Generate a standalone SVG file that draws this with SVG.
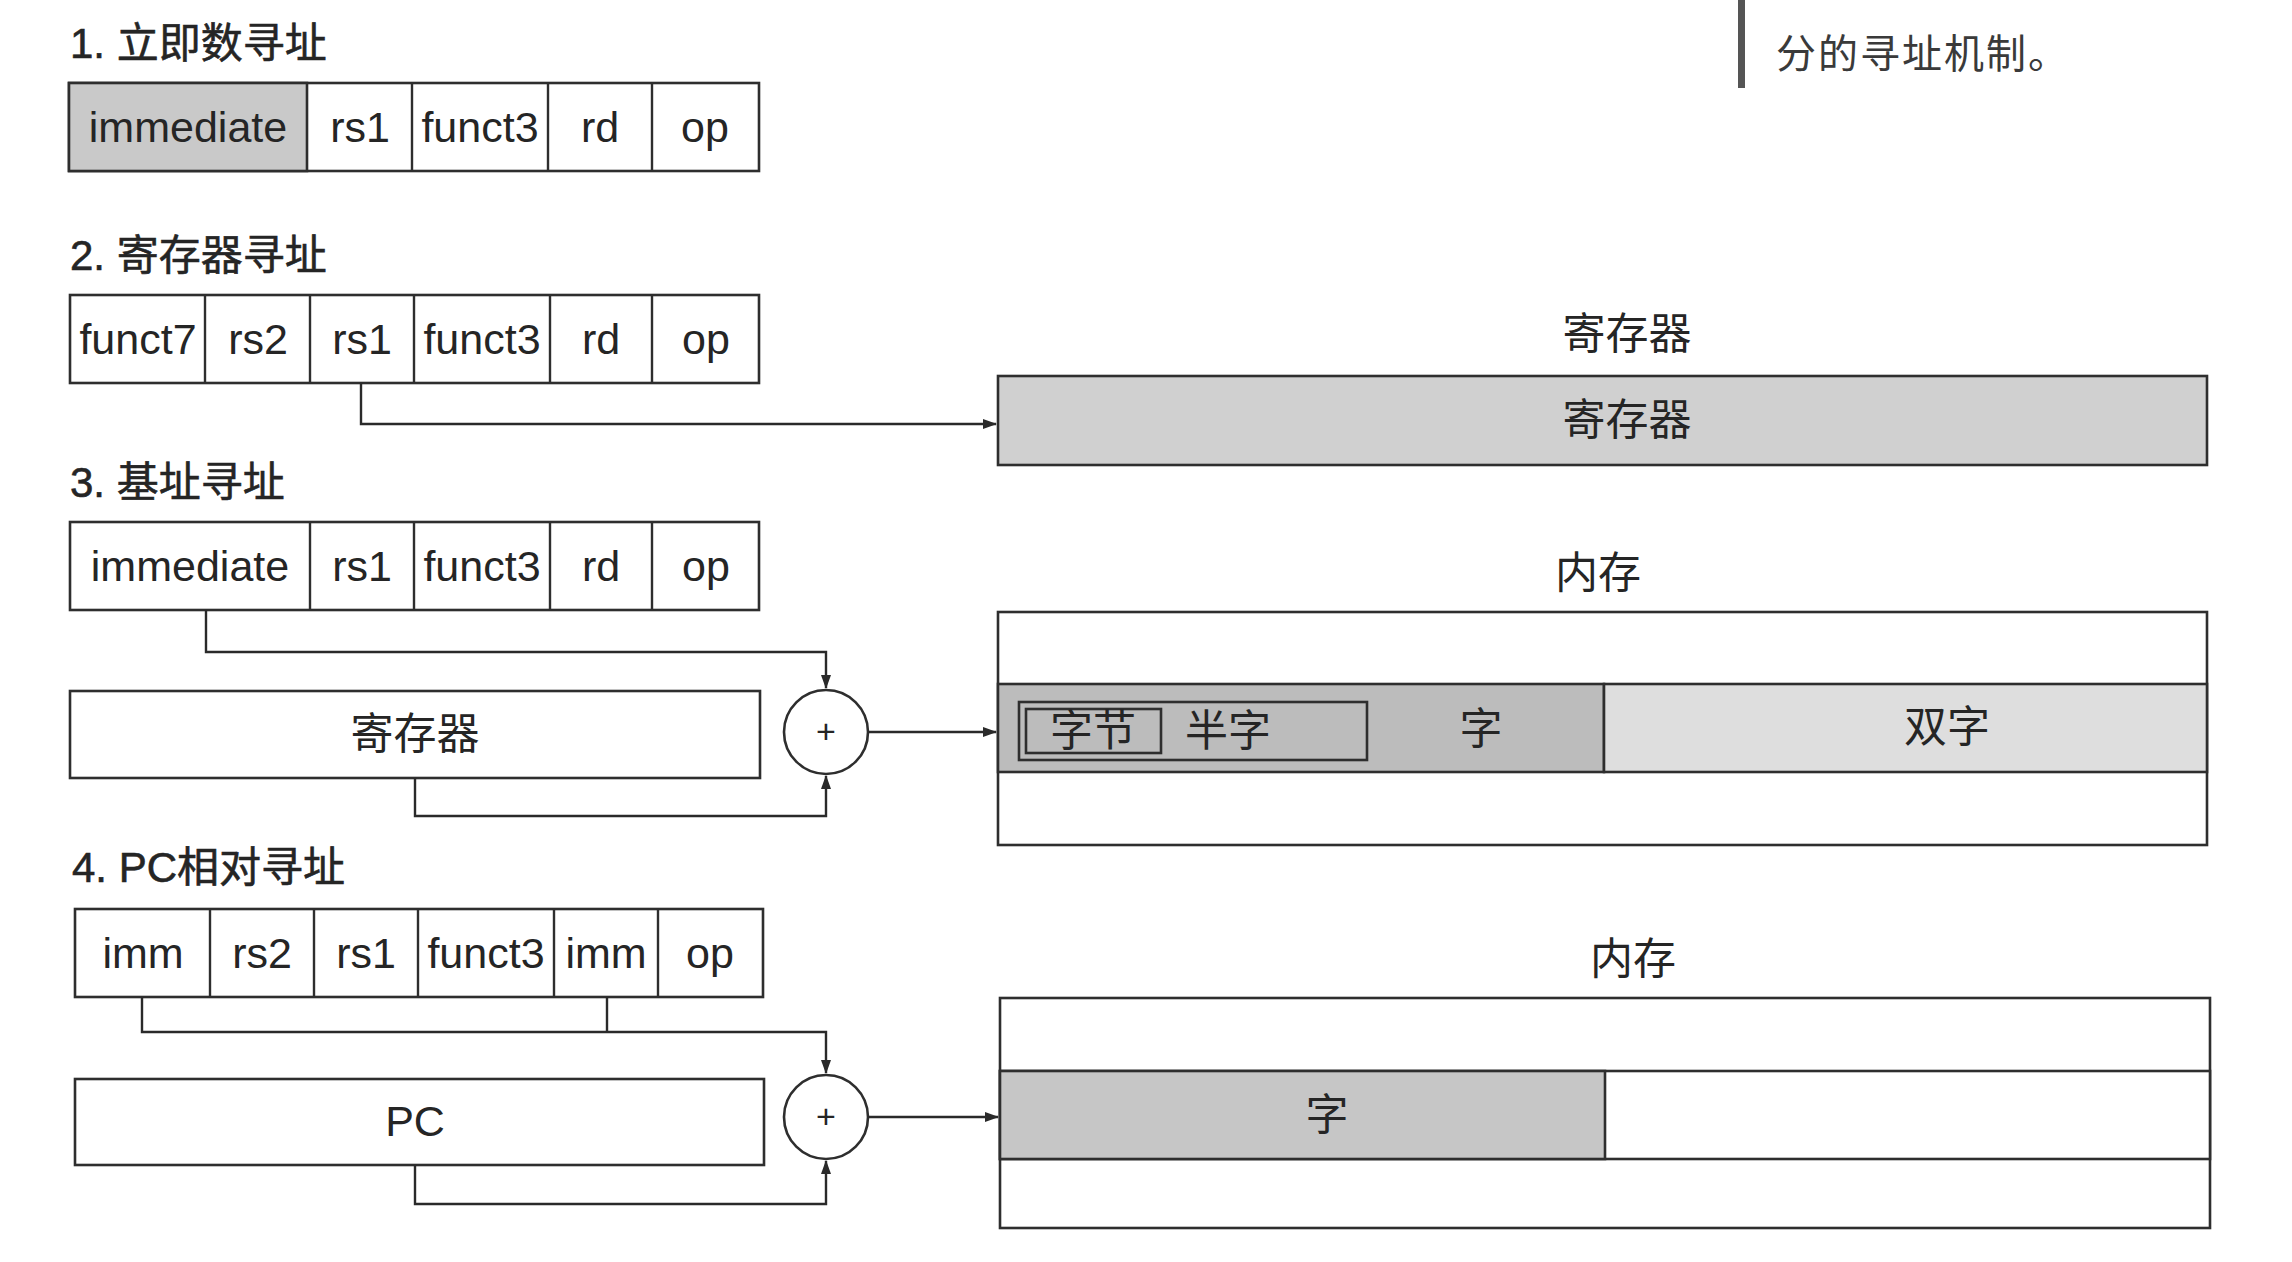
<svg xmlns="http://www.w3.org/2000/svg" width="2292" height="1262" viewBox="0 0 2292 1262">
  <defs>
    <marker id="arr" markerWidth="14" markerHeight="10" refX="13" refY="5" orient="auto" markerUnits="userSpaceOnUse">
      <path d="M0,0 L14,5 L0,10 Z" fill="#2a2a2a"/>
    </marker>
    <style>
      .box { fill: #ffffff; stroke: #2e2e2e; stroke-width: 2.6; }
      .imm { fill: #c9c9c9; stroke: #2e2e2e; stroke-width: 2.6; }
      .reg { fill: #d0d0d0; stroke: #2e2e2e; stroke-width: 2.6; }
      .word { fill: #bcbcbc; stroke: #2e2e2e; stroke-width: 2.6; }
      .word2 { fill: #c6c6c6; stroke: #2e2e2e; stroke-width: 2.6; }
      .dword { fill: #dedede; stroke: #2e2e2e; stroke-width: 2.6; }
      .inner { fill: none; stroke: #2e2e2e; stroke-width: 2.6; }
      .div { stroke: #2e2e2e; stroke-width: 2.4; }
      .wire { fill: none; stroke: #2a2a2a; stroke-width: 2.4; }
      .t { font-family: "Liberation Sans", Arial, "Noto Sans CJK SC", sans-serif; font-size: 43px; fill: #252525; text-anchor: middle; dominant-baseline: central; }
      .h { font-family: "Liberation Sans", Arial, "Noto Sans CJK SC", sans-serif; font-size: 42px; fill: #252525; stroke: #252525; stroke-width: 0.6; }
      .note { font-family: "Noto Sans CJK SC", sans-serif; font-size: 40px; fill: #3a3a3a; letter-spacing: 2px; }
    </style>
  </defs>
  <rect width="2292" height="1262" fill="#ffffff"/>

  <!-- side note fragment at the top right -->
  <g id="side-note">
    <rect x="1738" y="0" width="7" height="88" fill="#555555"/>
    <text class="note" x="1776" y="68">分的寻址机制。</text>
  </g>

  <!-- section headings -->
  <g id="headings">
    <text class="h" x="70" y="58">1. 立即数寻址</text>
    <text class="h" x="70" y="270">2. 寄存器寻址</text>
    <text class="h" x="70" y="497">3. 基址寻址</text>
    <text class="h" x="72" y="882">4. PC相对寻址</text>
  </g>

  <!-- 1: immediate-format instruction -->
  <g id="instr-1">
    <rect class="box" x="69" y="83" width="690" height="88"/>
    <rect class="imm" x="69" y="83" width="238" height="88"/>
    <line class="div" x1="412" y1="83" x2="412" y2="171"/>
    <line class="div" x1="548" y1="83" x2="548" y2="171"/>
    <line class="div" x1="652" y1="83" x2="652" y2="171"/>
    <text class="t" x="188" y="127">immediate</text>
    <text class="t" x="360" y="127">rs1</text>
    <text class="t" x="480" y="127">funct3</text>
    <text class="t" x="600" y="127">rd</text>
    <text class="t" x="705" y="127">op</text>
  </g>

  <!-- 2: register-format instruction -->
  <g id="instr-2">
    <rect class="box" x="70" y="295" width="689" height="88"/>
    <line class="div" x1="205" y1="295" x2="205" y2="383"/>
    <line class="div" x1="310" y1="295" x2="310" y2="383"/>
    <line class="div" x1="414" y1="295" x2="414" y2="383"/>
    <line class="div" x1="550" y1="295" x2="550" y2="383"/>
    <line class="div" x1="652" y1="295" x2="652" y2="383"/>
    <text class="t" x="138" y="339">funct7</text>
    <text class="t" x="258" y="339">rs2</text>
    <text class="t" x="362" y="339">rs1</text>
    <text class="t" x="482" y="339">funct3</text>
    <text class="t" x="601" y="339">rd</text>
    <text class="t" x="706" y="339">op</text>
  </g>

  <!-- register file target -->
  <g id="regfile">
    <text class="t" x="1627" y="334">寄存器</text>
    <rect class="reg" x="998" y="376" width="1209" height="89"/>
    <text class="t" x="1627" y="420">寄存器</text>
  </g>

  <!-- 3: base-addressing instruction -->
  <g id="instr-3">
    <rect class="box" x="70" y="522" width="689" height="88"/>
    <line class="div" x1="310" y1="522" x2="310" y2="610"/>
    <line class="div" x1="414" y1="522" x2="414" y2="610"/>
    <line class="div" x1="550" y1="522" x2="550" y2="610"/>
    <line class="div" x1="652" y1="522" x2="652" y2="610"/>
    <text class="t" x="190" y="566">immediate</text>
    <text class="t" x="362" y="566">rs1</text>
    <text class="t" x="482" y="566">funct3</text>
    <text class="t" x="601" y="566">rd</text>
    <text class="t" x="706" y="566">op</text>
  </g>

  <g id="base-reg">
    <rect class="box" x="70" y="691" width="690" height="87"/>
    <text class="t" x="415" y="734">寄存器</text>
  </g>

  <g id="adder-1">
    <circle class="box" cx="826" cy="732" r="42"/>
    <text class="t" x="826" y="731" style="font-size:34px">+</text>
  </g>

  <!-- memory with byte / halfword / word / doubleword -->
  <g id="memory-1">
    <text class="t" x="1598" y="573">内存</text>
    <rect class="box" x="998" y="612" width="1209" height="233"/>
    <rect class="word" x="998" y="684" width="606" height="88"/>
    <rect class="dword" x="1604" y="684" width="603" height="88"/>
    <rect class="inner" x="1019" y="702" width="348" height="58"/>
    <rect class="inner" x="1026" y="709" width="135" height="44"/>
    <text class="t" x="1093" y="731">字节</text>
    <text class="t" x="1228" y="731">半字</text>
    <text class="t" x="1481" y="729">字</text>
    <text class="t" x="1947" y="727">双字</text>
  </g>

  <!-- 4: PC-relative instruction -->
  <g id="instr-4">
    <rect class="box" x="75" y="909" width="688" height="88"/>
    <line class="div" x1="210" y1="909" x2="210" y2="997"/>
    <line class="div" x1="314" y1="909" x2="314" y2="997"/>
    <line class="div" x1="418" y1="909" x2="418" y2="997"/>
    <line class="div" x1="554" y1="909" x2="554" y2="997"/>
    <line class="div" x1="658" y1="909" x2="658" y2="997"/>
    <text class="t" x="143" y="953">imm</text>
    <text class="t" x="262" y="953">rs2</text>
    <text class="t" x="366" y="953">rs1</text>
    <text class="t" x="486" y="953">funct3</text>
    <text class="t" x="606" y="953">imm</text>
    <text class="t" x="710" y="953">op</text>
  </g>

  <g id="pc">
    <rect class="box" x="75" y="1079" width="689" height="86"/>
    <text class="t" x="415" y="1121">PC</text>
  </g>

  <g id="adder-2">
    <circle class="box" cx="826" cy="1117" r="42"/>
    <text class="t" x="826" y="1116" style="font-size:34px">+</text>
  </g>

  <g id="memory-2">
    <text class="t" x="1633" y="959">内存</text>
    <rect class="box" x="1000" y="998" width="1210" height="230"/>
    <rect class="box" x="1000" y="1071" width="1210" height="88"/>
    <rect class="word2" x="1000" y="1071" width="605" height="88"/>
    <text class="t" x="1327" y="1115">字</text>
  </g>

  <!-- connectors -->
  <g id="connectors">
    <path class="wire" d="M361,383 V424 H996" marker-end="url(#arr)"/>
    <path class="wire" d="M206,610 V652 H826 V688" marker-end="url(#arr)"/>
    <path class="wire" d="M415,778 V816 H826 V776" marker-end="url(#arr)"/>
    <path class="wire" d="M868,732 H996" marker-end="url(#arr)"/>
    <path class="wire" d="M142,997 V1032 H826 V1073" marker-end="url(#arr)"/>
    <path class="wire" d="M607,997 V1032"/>
    <path class="wire" d="M415,1165 V1204 H826 V1161" marker-end="url(#arr)"/>
    <path class="wire" d="M868,1117 H998" marker-end="url(#arr)"/>
  </g>
</svg>
